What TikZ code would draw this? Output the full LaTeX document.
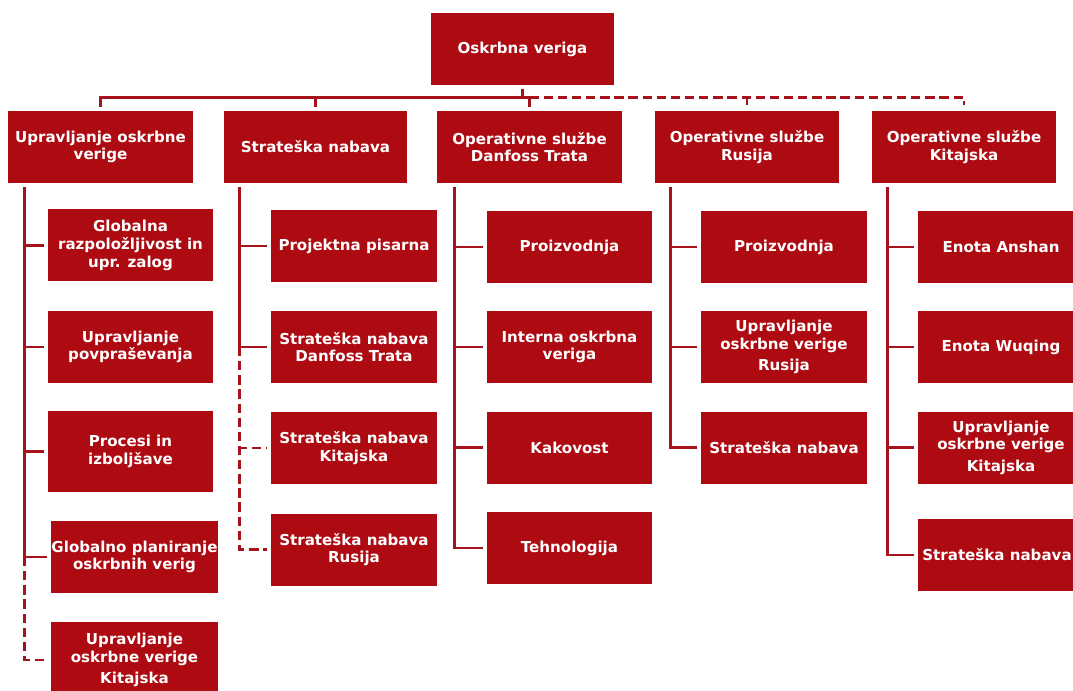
\documentclass[tikz,border=0pt]{standalone}
\usepackage{fontspec}
\setmainfont{DejaVu Sans}
\definecolor{boxred}{HTML}{AE0A12}
\definecolor{linkred}{HTML}{A6121B}
\begin{document}
\begin{tikzpicture}[x=0.75pt,y=-0.75pt,
  unit/.style={fill=boxred,text=white,inner sep=0pt,align=center,
    font=\fontsize{11.3}{13.2}\selectfont\bfseries,
    minimum width=#1*0.75pt},
  unit/.default=166,
  tall/.style={minimum height=72*0.75pt},
  link/.style={draw=linkred,line width=2.1pt},
  dlink/.style={link,dash pattern=on 7pt off 3.6pt},
  stub/.style={shorten >=4*0.75pt}]
\useasboundingbox (0,0) rectangle (1073,691);

% root
\node[unit=183,tall] (top) at (522.5,49) {Oskrbna veriga};

% first level
\node[unit=185,tall] (uov) at (100.5,147) {Upravljanje oskrbne\\verige};
\node[unit=183,tall] (sn)  at (315.5,147) {Strateška nabava};
\node[unit=185,tall] (dt)  at (529.5,147) {Operativne službe\\Danfoss Trata};
\node[unit=184,tall] (ru)  at (747,147)   {Operativne službe\\Rusija};
\node[unit=184,tall] (ki)  at (964,147)   {Operativne službe\\Kitajska};

% Upravljanje oskrbne verige
\node[unit=165,tall] (a1) at (130.5,245.5) {Globalna\\razpoložljivost in\\upr. zalog};
\node[unit=165,tall] (a2) at (130.5,347) {Upravljanje\\povpraševanja};
\node[unit=165,minimum height=81*0.75pt] (a3) at (130.5,451.5) {Procesi in\\izboljšave};
\node[unit=167,tall] (a4) at (134.5,557) {Globalno planiranje\\oskrbnih verig};
\node[unit=167,minimum height=76*0.75pt] (a5) at (134.5,660) {Upravljanje\\oskrbne verige\\[3pt]Kitajska};

% Strateška nabava
\node[unit,tall] (b1) at (354,246) {Projektna pisarna};
\node[unit,tall] (b2) at (354,347) {Strateška nabava\\Danfoss Trata};
\node[unit,tall] (b3) at (354,448) {Strateška nabava\\Kitajska};
\node[unit,tall] (b4) at (354,549.5) {Strateška nabava\\Rusija};

% Operativne službe Danfoss Trata
\node[unit=165,tall] (c1) at (569.5,247) {Proizvodnja};
\node[unit=165,tall] (c2) at (569.5,347) {Interna oskrbna\\veriga};
\node[unit=165,tall] (c3) at (569.5,447.5) {Kakovost};
\node[unit=165,tall] (c4) at (569.5,548) {Tehnologija};

% Operativne službe Rusija
\node[unit,tall] (d1) at (784,247) {Proizvodnja};
\node[unit,tall] (d2) at (784,347) {Upravljanje\\oskrbne verige\\[3pt]Rusija};
\node[unit,tall] (d3) at (784,447.5) {Strateška nabava};

% Operativne službe Kitajska
\node[unit,tall] (e1) at (1001,247) {Enota Anshan};
\node[unit,tall] (e2) at (1001,347) {Enota Wuqing};
\node[unit,tall] (e3) at (1001,447.5) {Upravljanje\\oskrbne verige\\[3pt]Kitajska};
\node[unit,tall] (e4) at (1001,555) {Strateška nabava\kern6pt};

% bus from the root to the first level
\coordinate (bus) at ([shift={(0,12)}]top.south);
\draw[link] ([shift={(0,4)}]top.south) -- (bus);
\draw[link] ([shift={(0,-4)}]uov.north) -- (uov.north |- bus) -- (dt.north |- bus) -- ([shift={(0,-4)}]dt.north);
\draw[link] (sn.north |- bus) -- ([shift={(0,-4)}]sn.north);
\draw[dlink] (dt.north |- bus) -- (ki.north |- bus) -- ([shift={(0,-6)}]ki.north);
\draw[dlink] (ru.north |- bus) -- ([shift={(0,-6)}]ru.north);

% trunk tops under each first-level unit
\coordinate (ta) at ([shift={(17,4)}]uov.south west);
\coordinate (tb) at ([shift={(16,4)}]sn.south west);
\coordinate (tc) at ([shift={(18,4)}]dt.south west);
\coordinate (td) at ([shift={(16,4)}]ru.south west);
\coordinate (te) at ([shift={(16,4)}]ki.south west);

% solid reporting lines
\foreach \c in {a1,a2,a3,a4} \draw[link,stub] (ta) |- (\c.west);
\foreach \c in {b1,b2} \draw[link,stub] (tb) |- (\c.west);
\foreach \c in {c1,c2,c3,c4} \draw[link,stub] (tc) |- (\c.west);
\foreach \c in {d1,d2,d3} \draw[link,stub] (td) |- (\c.west);
\foreach \c in {e1,e2,e3,e4} \draw[link,stub] (te) |- (\c.west);

% dashed reporting lines
\draw[dlink,stub] (ta |- a4.west) |- (a5.west);
\draw[dlink,stub] (tb |- b2.west) |- (b3.west);
\draw[dlink,stub] (tb |- b2.west) |- (b4.west);
\end{tikzpicture}
\end{document}
